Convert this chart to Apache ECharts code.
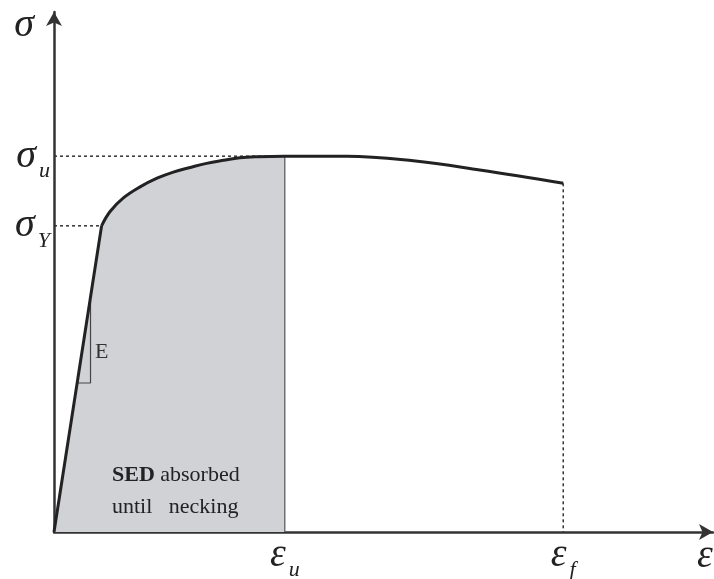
<!DOCTYPE html>
<html><head><meta charset="utf-8">
<script src="https://cdn.jsdelivr.net/npm/echarts@6/dist/echarts.min.js"></script>
<style>html,body{margin:0;padding:0;background:#fff}#c{width:714px;height:579px}</style>
</head><body><div id="c"></div>
<script>
// Stress-strain curve (arbitrary units)
const elasticStrain = [0, 7.3];
const elasticStress = [0, 59.8];
const plasticStrain = [7.3, 8.6, 10.6, 13.2, 15.8, 18.3, 20.9, 23.4, 26.0, 28.5, 31.1, 35.4, 44.9, 55.1, 65.3, 78.1];
const plasticStress = [59.8, 62.6, 65.2, 67.4, 69.1, 70.3, 71.2, 72.0, 72.6, 73.1, 73.3, 73.4, 73.4, 72.5, 70.7, 68.1];
const neckIndex = 11; // index of eps_u in the plastic arrays
const epsU = 35.4, epsF = 78.1;
const sigmaY = 59.8, sigmaU = 73.4;
const xMax = 101.07, yMax = 101.56;
const xTickValues = [epsU, epsF];
const xTickSubs = ['u', 'f'];
const yTickValues = [sigmaY, sigmaU];
const yTickSubs = ['Y', 'u'];
// E slope triangle (strain, stress)
const triStrain = [3.56, 5.6, 5.6];
const triStress = [29.1, 29.1, 45.3];

const SERIF = "'Liberation Serif','DejaVu Serif',serif";
const pair = (xs, ys) => xs.map((x, i) => [x, ys[i]]);
const elastic = pair(elasticStrain, elasticStress);
const plastic = pair(plasticStrain, plasticStress);
const fillData = elastic.concat(plastic.slice(1, neckIndex + 1));
const lineCol = '#222';
const fillCol = '#d1d2d6';
const dotted = { color: '#333', width: 1.5, type: [3, 3] };

const chart = echarts.init(document.getElementById('c'), null, { renderer: 'canvas' });
chart.setOption({
  animation: false,
  backgroundColor: '#ffffff',
  grid: { left: 54, right: 1, top: 12, bottom: 47, containLabel: false, outerBoundsMode: 'none' },
  xAxis: {
    type: 'value', min: 0, max: xMax,
    name: 'ε', nameLocation: 'end', nameGap: -16,
    nameTextStyle: { fontFamily: SERIF, fontStyle: 'italic', fontSize: 40, color: '#222', align: 'left', verticalAlign: 'top', padding: [4, 0, 0, 0] },
    axisLine: { show: true, lineStyle: { color: '#333', width: 2.5 }, symbol: ['none', 'arrow'], symbolSize: [12, 14] },
    axisTick: { show: false },
    splitLine: { show: false },
    axisLabel: {
      customValues: xTickValues, margin: 3,
      formatter: v => '{g|ε}{s|' + xTickSubs[xTickValues.indexOf(v)] + '}',
      rich: {
        g: { fontFamily: SERIF, fontStyle: 'italic', fontSize: 40, color: '#222', verticalAlign: 'bottom' },
        s: { fontFamily: SERIF, fontStyle: 'italic', fontSize: 22, color: '#222', verticalAlign: 'bottom', padding: [0, 0, -6, 3] }
      }
    }
  },
  yAxis: {
    type: 'value', min: 0, max: yMax,
    name: 'σ', nameLocation: 'end', nameGap: -13,
    nameTextStyle: { fontFamily: SERIF, fontStyle: 'italic', fontSize: 40, color: '#222', align: 'right', verticalAlign: 'middle', padding: [0, 20, 0, 0] },
    axisLine: { show: true, lineStyle: { color: '#333', width: 2.5 }, symbol: ['none', 'arrow'], symbolSize: [12, 14] },
    axisTick: { show: false },
    splitLine: { show: false },
    axisLabel: {
      customValues: yTickValues, margin: 4,
      formatter: v => '{g|σ}{s|' + yTickSubs[yTickValues.indexOf(v)] + '}',
      rich: {
        g: { fontFamily: SERIF, fontStyle: 'italic', fontSize: 40, color: '#222', verticalAlign: 'bottom' },
        s: { fontFamily: SERIF, fontStyle: 'italic', fontSize: 22, color: '#222', verticalAlign: 'bottom', padding: [0, 0, -6, 3] }
      }
    }
  },
  series: [
    { type: 'line', data: fillData, symbol: 'none', lineStyle: { width: 0 }, areaStyle: { color: fillCol, opacity: 1 }, z: 1 },
    { type: 'line', data: [[0, sigmaU], [epsU, sigmaU]], symbol: 'none', lineStyle: dotted, z: 2 },
    { type: 'line', data: [[0, sigmaY], [elasticStrain[1], sigmaY]], symbol: 'none', lineStyle: dotted, z: 2 },
    { type: 'line', data: [[epsF, plasticStress[plasticStress.length - 1]], [epsF, 0]], symbol: 'none', lineStyle: dotted, z: 2 },
    { type: 'line', data: [[epsU, 0], [epsU, plasticStress[neckIndex]]], symbol: 'none', lineStyle: { color: '#555', width: 1.2 }, z: 3 },
    { type: 'line', data: pair(triStrain, triStress), symbol: 'none', lineStyle: { color: '#444', width: 1.2 }, z: 3 },
    { type: 'line', data: elastic, symbol: 'none', lineStyle: { color: lineCol, width: 3 }, z: 4 },
    { type: 'line', data: plastic, symbol: 'none', smooth: 0.4, lineStyle: { color: lineCol, width: 3 }, z: 4 }
  ],
  graphic: [
    { type: 'text', left: 95, top: 341, z: 10, style: { text: 'E', fontFamily: SERIF, fontSize: 22, fill: '#333' } },
    { type: 'text', left: 112, top: 459, z: 10, style: {
      text: '{b|SED} absorbed\nuntil   necking', fontFamily: SERIF, fontSize: 22, fill: '#222', lineHeight: 32,
      rich: { b: { fontFamily: SERIF, fontSize: 22, fontWeight: 'bold', fill: '#222', lineHeight: 32 } }
    } }
  ]
});
</script></body></html>
